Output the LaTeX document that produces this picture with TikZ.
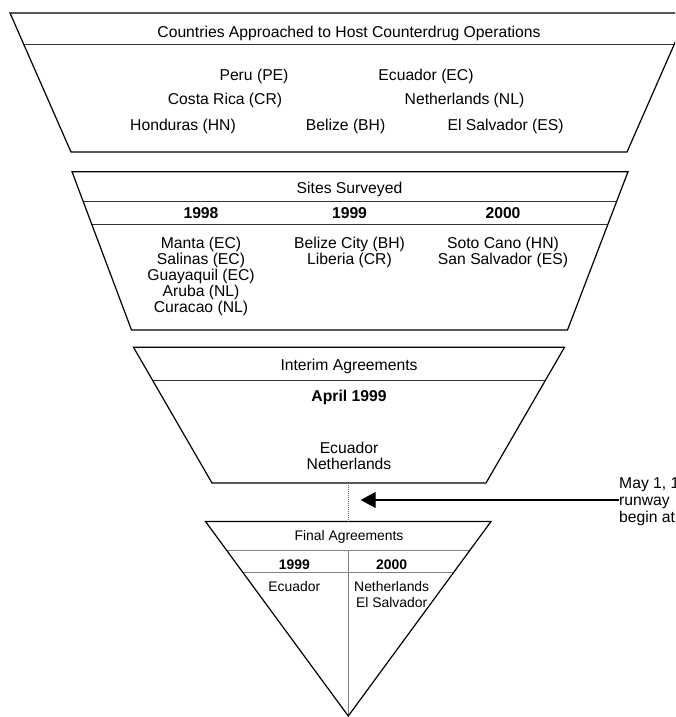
\documentclass[tikz,border=0pt]{standalone}
\usepackage{fontspec}
\setmainfont{Liberation Sans}
\usetikzlibrary{arrows.meta}
\tikzset{
  funnel/.style={draw=black, line width=1.2pt, line join=miter},
  divline/.style={draw=black!80, line width=0.9pt},
  gdiv/.style={draw=black!50, line width=0.8pt},
  txt/.style={font=\fontsize{15.7}{16}\selectfont, inner sep=0pt, anchor=base},
  btxt/.style={txt, font=\fontsize{15.7}{16}\selectfont\bfseries},
  lst/.style={font=\fontsize{15.7}{16}\selectfont, inner sep=0pt, anchor=north, align=center},
  stxt/.style={font=\fontsize{13.9}{16}\selectfont, inner sep=0pt, anchor=base},
  sbtxt/.style={stxt, font=\fontsize{13.9}{16}\selectfont\bfseries},
  slst/.style={font=\fontsize{13.9}{16}\selectfont, inner sep=0pt, anchor=north, align=center},
  arr/.style={draw=black, line width=1.4pt, -{Triangle[length=15pt,width=16pt]}},
  dots/.style={draw=black!60, line width=0.6pt, dash pattern=on 1pt off 1pt}
}
\begin{document}
\begin{tikzpicture}[x=1pt,y=-1pt]
\useasboundingbox (0,0) rectangle (675,717);
\clip (0,0) rectangle (675,717);
% ---------- Funnel 1
\coordinate (a1) at (10,13);
\coordinate (a2) at (688,13);
\coordinate (a3) at (627,152);
\coordinate (a4) at (71,152);
\begin{scope}
  \clip (a1)--(a2)--(a3)--(a4)--cycle;
  \draw[divline] (0,44) -- (700,44);
\end{scope}
\draw[funnel] (a1)--(a2)--(a3)--(a4)--cycle;
\node[txt] (t1) at (349,37.1) {Countries Approached to Host Counterdrug Operations};
\node[txt] (pe) at (254,80.6) {Peru (PE)};
\node[txt] (ec) at (426,80.6) {Ecuador (EC)};
\node[txt] (cr) at (225,104.9) {Costa Rica (CR)};
\node[txt] (nl) at (464.5,104.9) {Netherlands (NL)};
\node[txt] (hn) at (183,130.6) {Honduras (HN)};
\node[txt] (bh) at (345.6,130.6) {Belize (BH)};
\node[txt] (es) at (505.6,130.6) {El Salvador (ES)};
% ---------- Funnel 2
\coordinate (b1) at (72,171.7);
\coordinate (b2) at (628,171.7);
\coordinate (b3) at (567.5,330);
\coordinate (b4) at (131.5,330);
\begin{scope}
  \clip (b1)--(b2)--(b3)--(b4)--cycle;
  \draw[divline] (0,201.5) -- (700,201.5);
  \draw[divline] (0,224.3) -- (700,224.3);
\end{scope}
\draw[funnel] (b1)--(b2)--(b3)--(b4)--cycle;
\node[txt] (t2) at (349.5,193.9) {Sites Surveyed};
\node[btxt] (y98) at (201,218.9) {1998};
\node[btxt] (y99) at (349.5,218.9) {1999};
\node[btxt] (y00) at (503,218.9) {2000};
\node[lst] (l98) at (201,236.9) {Manta (EC)\\Salinas (EC)\\Guayaquil (EC)\\Aruba (NL)\\Curacao (NL)};
\node[lst] (l99) at (349.5,236.9) {Belize City (BH)\\Liberia (CR)};
\node[lst] (l00) at (503,236.9) {Soto Cano (HN)\\San Salvador (ES)};
% ---------- Funnel 3
\coordinate (c1) at (133.5,347.3);
\coordinate (c2) at (564.5,347.3);
\coordinate (c3) at (486,483);
\coordinate (c4) at (212,483);
\begin{scope}
  \clip (c1)--(c2)--(c3)--(c4)--cycle;
  \draw[divline] (0,380.5) -- (700,380.5);
\end{scope}
\draw[funnel] (c1)--(c2)--(c3)--(c4)--cycle;
\node[txt] (t3) at (349,370.1) {Interim Agreements};
\node[btxt] (apr) at (349,401.6) {April 1999};
\node[lst, font=\fontsize{15.7}{16.7}\selectfont] (l3) at (349,441.5) {Ecuador\\Netherlands};
% ---------- Triangle
\coordinate (d1) at (205.5,521.5);
\coordinate (d2) at (491,521.5);
\coordinate (d3) at (348.25,716);
\begin{scope}
  \clip (d1)--(d2)--(d3)--cycle;
  \draw[gdiv] (0,550) -- (700,550);
  \draw[gdiv] (0,572.7) -- (700,572.7);
  \draw[gdiv] (348.25,550) -- (348.25,720);
\end{scope}
\draw[funnel] (d1)--(d2)--(d3)--cycle;
\node[stxt] (t4) at (349,540.7) {Final Agreements};
\node[sbtxt] (f99) at (294.3,569.3) {1999};
\node[sbtxt] (f00) at (391.7,569.3) {2000};
\node[slst] (fl99) at (294.3,581.6) {Ecuador};
\node[slst] (fl00) at (391.7,581.6) {Netherlands\\El Salvador};
% ---------- connector and annotation
\coordinate (c34) at (348.25,483);
\coordinate (d12) at (348.25,521.5);
\draw[dots] (c34) -- (d12);
\node[font=\fontsize{15.7}{17}\selectfont, inner sep=0pt, anchor=north west, align=left] (ann) at (619,477.4) {May 1, 19\\runway\\begin at};
\coordinate (tip) at (360.7,500);
\draw[arr] (ann.west |- tip) -- (tip);
\end{tikzpicture}
\end{document}
